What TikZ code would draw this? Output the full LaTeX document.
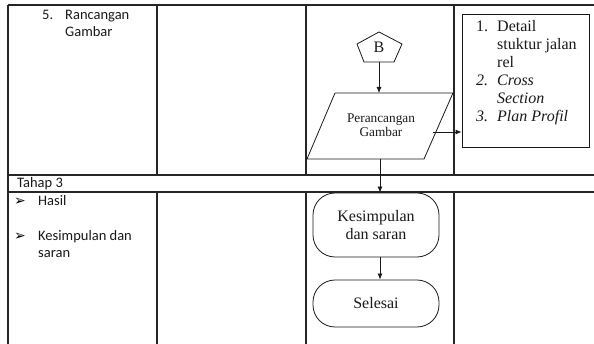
\documentclass[tikz,border=0pt]{standalone}
\usepackage{fontspec}
\setmainfont{Liberation Serif}
\newfontfamily\calibrifont{Carlito}
\newfontfamily\dejavufont{DejaVu Sans}
\usetikzlibrary{arrows.meta}
\begin{document}
\begin{tikzpicture}[x=1pt,y=-1pt,
  tbl/.style={line width=1.1pt, black!85},
  fl/.style={line width=0.8pt, black!90},
  arr/.style={fl,-{Latex[length=6pt,width=5pt]}},
  caltext/.style={font=\calibrifont\fontsize{14.5}{17}\selectfont, inner sep=0pt, anchor=base west, text=black!90},
  bullet/.style={font=\dejavufont\fontsize{14}{17}\selectfont, inner sep=0pt, anchor=base west, text=black},
  sertext/.style={font=\fontsize{16}{18}\selectfont, inner sep=0pt, text=black!90},
  term/.style={fl, draw, rectangle, rounded corners=22pt, minimum width=126pt, align=center, font=\fontsize{16}{18}\selectfont, inner sep=0pt, text=black!90}
]
\useasboundingbox (0,0) rectangle (594,344);
% table
\draw[tbl] (8,5) -- (594,5);
\draw[tbl] (8,5) -- (8,344);
\draw[tbl] (8,175) -- (594,175);
\draw[tbl] (8,192) -- (594,192);
\foreach \xx in {157,306,454}{
  \draw[tbl] (\xx,5) -- (\xx,175);
  \draw[tbl] (\xx,192) -- (\xx,344);
}
% left column texts
\node[caltext] (n5) at (42,19.5) {5.};
\node[caltext] (r1) at (65,19.5) {Rancangan};
\node[caltext] (r2) at (65,36.5) {Gambar};
\node[caltext] (tahap) at (17,188) {Tahap 3};
\node[bullet] (b1) at (14,205.5) {➢};
\node[caltext] (hasil) at (38,205.5) {Hasil};
\node[bullet] (b2) at (14,240.5) {➢};
\node[caltext] (ks1) at (38,240.5) {Kesimpulan dan};
\node[caltext] (ks2) at (38,257.5) {saran};
% pentagon B
\draw[fl] (379,32) -- (402,44) -- (394,62) -- (364,62) -- (357,44) -- cycle;
\node[sertext] (B) at (379,47.5) {B};
\coordinate (Bbot) at (379,62);
% parallelogram
\draw[fl] (335,93) -- (453,93) -- (424,159) -- (307,159) -- cycle;
\coordinate (parT) at (379,93);
\coordinate (parB) at (380,159);
\coordinate (parR) at (433,132);
\node[sertext, font=\fontsize{13.3}{14}\selectfont, align=center] (par) at (381,125) {Perancangan\\Gambar};
% output box
\node[fl, draw, rectangle, minimum width=127pt, minimum height=133pt, inner sep=0pt] (box) at (525.5,80.5) {};
\node[inner sep=0pt, anchor=base west, font=\fontsize{16}{18}\selectfont, text=black!90] (list) at (476,32)
  {\begin{tabular}[t]{@{}p{21pt}@{}l@{}}
   1. & Detail\\
      & stuktur jalan\\
      & rel\\
   \textit{2.} & \textit{Cross}\\
      & \textit{Section}\\
   \textit{3.} & \textit{Plan Profil}
   \end{tabular}};
% terminals
\node[term, minimum height=64pt] (kes) at (376,225) {Kesimpulan\\dan saran};
\node[term, minimum height=47pt] (sel) at (376,303.5) {Selesai};
% connectors
\draw[arr] (Bbot) -- (Bbot |- parT);
\draw[arr] (parR) -- (parR -| box.west);
\draw[arr] (parB) -- (parB |- kes.north);
\draw[arr] (parB |- kes.south) -- (parB |- sel.north);
\end{tikzpicture}
\end{document}
